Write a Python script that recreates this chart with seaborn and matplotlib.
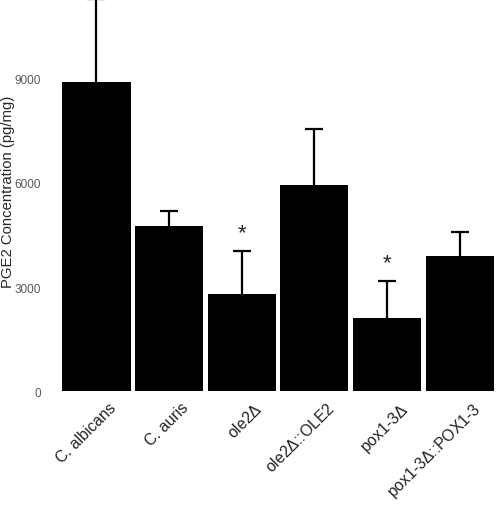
import seaborn as sns
import pandas as pd
import matplotlib.pyplot as plt
import matplotlib.transforms as mtransforms

# values
strains = ["C. albicans", "C. auris", "ole2Δ", "ole2Δ::OLE2", "pox1-3Δ", "pox1-3Δ::POX1-3"]
pge2 = [8900, 4760, 2800, 5940, 2100, 3890]
sd = [2400, 430, 1240, 1620, 1070, 700]
significant = [False, False, True, False, True, False]

df = pd.DataFrame({"strain": strains, "pge2": pge2})
df["top"] = df["pge2"] + pd.Series(sd)

sns.set_style("white")
plt.rcParams['font.family'] = ['Liberation Sans', 'DejaVu Sans']
plt.rcParams['mathtext.fontset'] = 'custom'
plt.rcParams['mathtext.it'] = 'Liberation Sans:italic'
plt.rcParams['mathtext.rm'] = 'Liberation Sans'

fig = plt.figure(figsize=(4.96, 5.10), dpi=100)
ax = fig.add_axes([0.121, 0.231, 0.879, 0.769])

sns.barplot(data=df, x="strain", y="pge2", color="black", saturation=1,
            width=0.94, errorbar=None, linewidth=0, ax=ax)

# upper error bars only, caps drawn as markers
ax.errorbar(range(len(strains)), pge2, yerr=[[0] * len(sd), sd], fmt="none",
            ecolor="black", elinewidth=1.6, capsize=0)
ax.plot(range(len(strains)), df["top"], ls="none", marker="_", ms=13,
        mew=1.6, color="black")

for i, (t, sig) in enumerate(zip(df["top"], significant)):
    if sig:
        ax.text(i, t + 220, "*", ha="center", va="bottom", fontsize=16)

ax.set_xlim(-0.5, 5.5)
ax.set_ylim(0, 11300)
ax.set_yticks([0, 3000, 6000, 9000])
ax.tick_params(axis="y", labelsize=8.5, colors="#595959", length=0, pad=13.5)
ax.tick_params(axis="x", length=0, pad=6)
ax.set_xticks(range(len(strains)))
# the delta sign is slanted in the reference
labels = [s.replace("Δ", r"$\mathit{Δ}$") for s in strains]
ax.set_xticklabels(labels, rotation=45, ha="right", rotation_mode="anchor",
                   fontsize=11.3, color="#222222")
shift = mtransforms.ScaledTranslation(0.12, 0, fig.dpi_scale_trans)
for lbl in ax.get_xticklabels():
    lbl.set_transform(lbl.get_transform() + shift)
ax.set_xlabel("")
ax.set_ylabel("PGE2 Concentration (pg/mg)", fontsize=10.7)
ax.yaxis.set_label_coords(-0.104, 0.51)
sns.despine(left=True, bottom=True)

fig.savefig("out.png", dpi=100)
